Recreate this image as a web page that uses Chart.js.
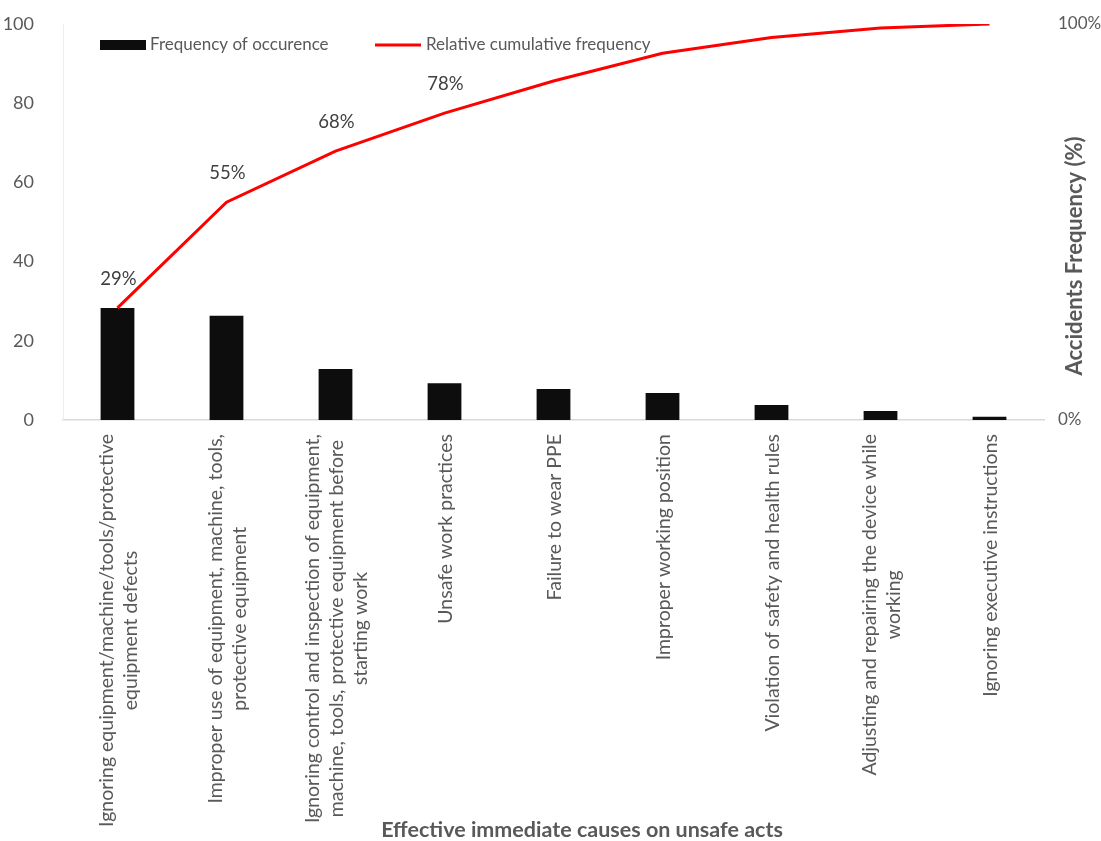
<!DOCTYPE html>
<html>
<head>
<meta charset="utf-8">
<script src="https://cdn.jsdelivr.net/npm/chart.js@4/dist/chart.umd.min.js"></script>
<style>
  body { margin: 0; background: #fff; }
  #wrap { width: 1101px; height: 841px; position: relative; }
</style>
</head>
<body>
<div id="wrap"><canvas id="paretoCanvas"></canvas></div>
<script>
const causes = [
  ['Ignoring equipment/machine/tools/protective', 'equipment defects'],
  ['Improper use of equipment, machine, tools,', 'protective equipment'],
  ['Ignoring control and inspection of equipment,', 'machine, tools, protective equipment before', 'starting work'],
  ['Unsafe work practices'],
  ['Failure to wear PPE'],
  ['Improper working position'],
  ['Violation of safety and health rules'],
  ['Adjusting and repairing the device while', 'working'],
  ['Ignoring executive instructions']
];
const frequency = [28.3, 26.3, 12.9, 9.3, 7.8, 6.8, 3.8, 2.3, 0.8];
const cumulative = [28.3, 55, 67.9, 77.5, 85.6, 92.6, 96.6, 99, 100];
const pointLabels = ['29%', '55%', '68%', '78%'];
const leftTicks = [0, 20, 40, 60, 80, 100];
const rightTicks = [0, 100];

const FONT = 'Lato, "Open Sans", sans-serif';
const GREY = '#595959';

const extrasPlugin = {
  id: 'extras',
  afterDraw(chart) {
    const ctx = chart.ctx;
    const x = chart.scales.x;
    const y1 = chart.scales.y1;
    const area = chart.chartArea;
    ctx.save();

    // category labels, rotated, lines centred on each other
    ctx.fillStyle = GREY;
    ctx.font = '19.5px ' + FONT;
    ctx.textAlign = 'center';
    ctx.textBaseline = 'middle';
    const lineH = 24;
    causes.forEach((lines, i) => {
      const cx = x.getPixelForTick(i);
      const maxW = Math.max(...lines.map(l => ctx.measureText(l).width));
      ctx.save();
      ctx.translate(cx + 1, area.bottom + 14 + maxW / 2);
      ctx.rotate(-Math.PI / 2);
      lines.forEach((l, j) => {
        ctx.fillText(l, 0, (j - (lines.length - 1) / 2) * lineH);
      });
      ctx.restore();
    });

    // cumulative % labels
    ctx.fillStyle = '#404040';
    ctx.font = '18.5px ' + FONT;
    pointLabels.forEach((t, i) => {
      ctx.fillText(t, x.getPixelForValue(i) + 1, y1.getPixelForValue(cumulative[i]) - 29);
    });

    // axis titles
    ctx.fillStyle = GREY;
    ctx.font = 'bold 21.5px ' + FONT;
    ctx.fillText('Effective immediate causes on unsafe acts', 582, 830);
    ctx.save();
    ctx.translate(1075, 256);
    ctx.rotate(-Math.PI / 2);
    ctx.font = 'bold 22px ' + FONT;
    ctx.fillText('Accidents Frequency (%)', 0, 0);
    ctx.restore();

    // legend inside the plot
    ctx.font = '17px ' + FONT;
    ctx.textAlign = 'left';
    ctx.fillStyle = '#0d0d0d';
    ctx.fillRect(100, 40, 46, 10);
    ctx.fillStyle = GREY;
    ctx.fillText(chart.data.datasets[1].label, 150, 45);
    ctx.strokeStyle = '#ff0000';
    ctx.lineWidth = 3;
    ctx.beginPath();
    ctx.moveTo(375, 45);
    ctx.lineTo(421, 45);
    ctx.stroke();
    ctx.fillText(chart.data.datasets[0].label, 426, 45);
    ctx.restore();
  }
};

const ctx = document.getElementById('paretoCanvas').getContext('2d');
new Chart(ctx, {
  type: 'bar',
  data: {
    labels: causes.map(c => c.join(' ')),
    datasets: [{
      type: 'line',
      label: 'Relative cumulative frequency',
      data: cumulative,
      borderColor: '#ff0000',
      borderWidth: 3,
      pointRadius: 0,
      tension: 0,
      yAxisID: 'y1',
      order: 0
    }, {
      label: 'Frequency of occurence',
      data: frequency,
      backgroundColor: '#0d0d0d',
      barPercentage: 0.31,
      categoryPercentage: 1,
      yAxisID: 'y',
      order: 1
    }]
  },
  options: {
    responsive: true,
    maintainAspectRatio: false,
    animation: false,
    layout: { padding: { top: 24, left: 0, right: 0, bottom: 0 } },
    plugins: {
      legend: { display: false },
      tooltip: { enabled: false }
    },
    scales: {
      x: {
        grid: { display: false },
        border: { color: '#d9d9d9', width: 1.5 },
        ticks: { display: false },
        afterFit(s) { s.height = 421; s.paddingLeft = 0; s.paddingRight = 0; }
      },
      y: {
        position: 'left',
        min: 0,
        max: 100,
        afterBuildTicks(s) { s.ticks = leftTicks.map(v => ({ value: v })); },
        grid: { display: false },
        border: { color: '#eeeeee' },
        ticks: { color: GREY, padding: 21, font: { family: FONT, size: 18 } },
        afterFit(s) { s.width = 63; s.paddingTop = 0; s.paddingBottom = 0; }
      },
      y1: {
        position: 'right',
        min: 0,
        max: 100,
        afterBuildTicks(s) { s.ticks = rightTicks.map(v => ({ value: v })); },
        grid: { display: false },
        border: { display: false },
        ticks: { color: GREY, padding: 6, font: { family: FONT, size: 17 }, callback: v => v + '%' },
        afterFit(s) { s.width = 57; s.paddingTop = 0; s.paddingBottom = 0; }
      }
    }
  },
  plugins: [extrasPlugin]
});
</script>
</body>
</html>
